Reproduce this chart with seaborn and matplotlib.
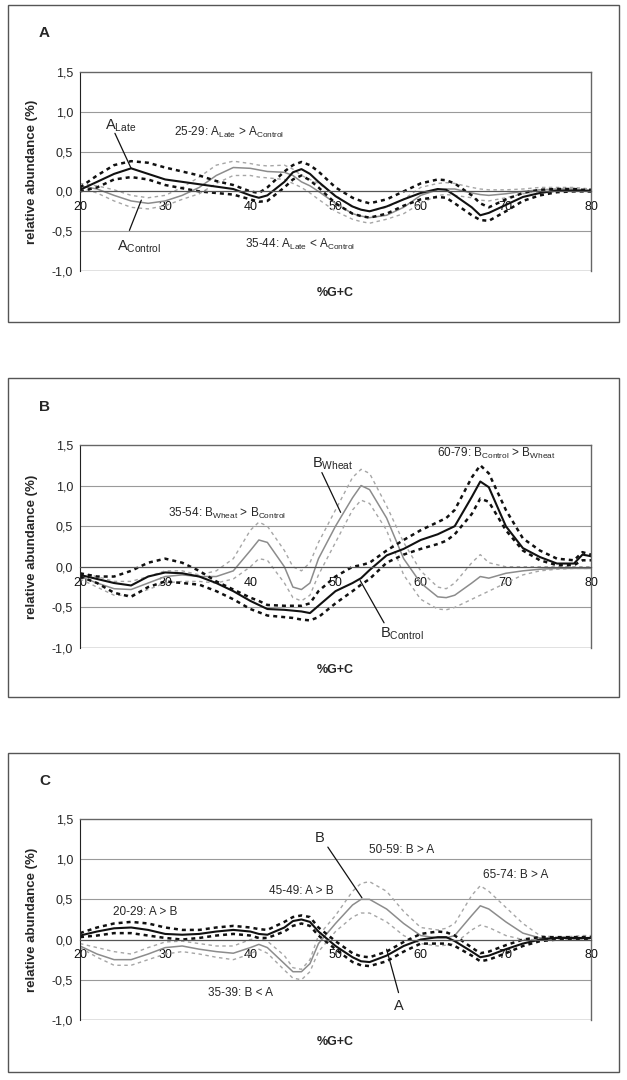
import matplotlib
matplotlib.use("Agg")
import matplotlib.pyplot as plt
import seaborn as sns
from matplotlib.patches import Rectangle
from matplotlib.ticker import FuncFormatter

# %G+C positions shared by all series
gc = [20, 22, 24, 26, 28, 30, 32, 34, 36, 38, 40, 41, 42, 44, 45, 46, 47, 48, 50,
      52, 53, 54, 56, 58, 60, 62, 63, 64, 66, 67, 68, 70, 72, 74, 76, 78, 79, 80]

# Panel A
a_late = [0.02, 0.12, 0.22, 0.29, 0.22, 0.15, 0.12, 0.09, 0.06, 0.03, -0.05, -0.08, -0.05, 0.12, 0.24, 0.28, 0.22, 0.12, -0.06,
          -0.19, -0.23, -0.25, -0.19, -0.10, -0.02, 0.03, 0.02, -0.05, -0.20, -0.30, -0.27, -0.17, -0.07, -0.02, 0.01, 0.01, 0.01, 0.00]
a_late_hi = [0.05, 0.20, 0.33, 0.38, 0.36, 0.30, 0.25, 0.20, 0.13, 0.08, 0.00, -0.02, 0.05, 0.25, 0.33, 0.37, 0.33, 0.25, 0.05,
             -0.08, -0.12, -0.15, -0.10, 0.00, 0.10, 0.15, 0.14, 0.10, -0.05, -0.15, -0.20, -0.10, -0.02, 0.02, 0.03, 0.03, 0.02, 0.02]
a_late_lo = [0.00, 0.05, 0.15, 0.18, 0.15, 0.08, 0.04, 0.00, -0.02, -0.04, -0.10, -0.13, -0.12, 0.05, 0.15, 0.20, 0.14, 0.05, -0.15,
             -0.28, -0.31, -0.33, -0.28, -0.18, -0.10, -0.07, -0.08, -0.15, -0.30, -0.36, -0.37, -0.25, -0.12, -0.05, -0.01, 0.00, 0.00, 0.00]
a_ctrl = [0.07, 0.03, -0.05, -0.12, -0.15, -0.12, -0.05, 0.05, 0.20, 0.30, 0.29, 0.27, 0.25, 0.24, 0.20, 0.12, 0.07, 0.00, -0.15,
          -0.28, -0.31, -0.33, -0.30, -0.20, -0.05, 0.02, 0.03, 0.03, -0.02, -0.04, -0.05, -0.03, 0.00, 0.02, 0.03, 0.03, 0.02, 0.02]
a_ctrl_hi = [0.10, 0.07, 0.02, -0.05, -0.08, -0.05, 0.05, 0.18, 0.33, 0.38, 0.35, 0.33, 0.32, 0.33, 0.28, 0.20, 0.15, 0.10, -0.05,
             -0.20, -0.23, -0.25, -0.20, -0.10, 0.05, 0.10, 0.11, 0.10, 0.05, 0.03, 0.02, 0.02, 0.03, 0.05, 0.05, 0.05, 0.04, 0.03]
a_ctrl_lo = [0.05, -0.02, -0.12, -0.20, -0.22, -0.18, -0.10, -0.03, 0.10, 0.20, 0.20, 0.18, 0.17, 0.15, 0.10, 0.05, -0.02, -0.10, -0.25,
             -0.35, -0.38, -0.40, -0.35, -0.28, -0.15, -0.05, -0.04, -0.05, -0.08, -0.11, -0.12, -0.08, -0.03, 0.00, 0.02, 0.02, 0.01, 0.00]

# Panel B
b_ctrl = [-0.10, -0.15, -0.20, -0.23, -0.12, -0.07, -0.08, -0.12, -0.20, -0.30, -0.42, -0.47, -0.52, -0.53, -0.54, -0.55, -0.57, -0.48, -0.30,
          -0.20, -0.14, -0.04, 0.14, 0.22, 0.33, 0.40, 0.45, 0.50, 0.86, 1.05, 0.98, 0.50, 0.23, 0.12, 0.04, 0.04, 0.15, 0.13]
b_ctrl_hi = [-0.08, -0.12, -0.12, -0.05, 0.05, 0.10, 0.05, -0.05, -0.18, -0.28, -0.38, -0.42, -0.47, -0.48, -0.48, -0.48, -0.45, -0.30, -0.12,
             0.00, 0.02, 0.05, 0.20, 0.33, 0.45, 0.55, 0.60, 0.70, 1.10, 1.25, 1.15, 0.70, 0.35, 0.20, 0.10, 0.08, 0.18, 0.15]
b_ctrl_lo = [-0.12, -0.20, -0.32, -0.37, -0.25, -0.18, -0.20, -0.22, -0.30, -0.40, -0.52, -0.56, -0.60, -0.62, -0.63, -0.65, -0.66, -0.62, -0.45,
             -0.30, -0.22, -0.15, 0.05, 0.15, 0.22, 0.28, 0.32, 0.40, 0.65, 0.84, 0.80, 0.45, 0.20, 0.08, 0.02, 0.02, 0.08, 0.08]
b_wheat = [-0.12, -0.20, -0.27, -0.28, -0.20, -0.12, -0.10, -0.12, -0.12, -0.05, 0.20, 0.33, 0.30, 0.00, -0.25, -0.28, -0.20, 0.10, 0.50,
           0.85, 1.00, 0.95, 0.60, 0.10, -0.20, -0.37, -0.38, -0.35, -0.20, -0.12, -0.14, -0.08, -0.05, -0.03, -0.02, -0.02, -0.02, -0.02]
b_wheat_hi = [-0.08, -0.12, -0.18, -0.18, -0.12, -0.05, -0.05, -0.10, -0.05, 0.10, 0.45, 0.55, 0.50, 0.20, 0.00, -0.05, 0.05, 0.30, 0.70,
              1.10, 1.20, 1.15, 0.75, 0.30, -0.05, -0.25, -0.27, -0.20, 0.05, 0.15, 0.05, 0.00, 0.00, 0.00, 0.00, 0.00, 0.00, 0.00]
b_wheat_lo = [-0.15, -0.25, -0.35, -0.35, -0.28, -0.20, -0.18, -0.18, -0.20, -0.15, 0.00, 0.10, 0.08, -0.20, -0.38, -0.42, -0.35, -0.10, 0.30,
              0.70, 0.82, 0.78, 0.45, -0.10, -0.40, -0.52, -0.53, -0.50, -0.40, -0.35, -0.30, -0.20, -0.10, -0.05, -0.03, -0.02, -0.02, -0.02]

# Panel C
c_a = [0.05, 0.10, 0.14, 0.15, 0.12, 0.07, 0.06, 0.07, 0.10, 0.12, 0.10, 0.07, 0.06, 0.15, 0.23, 0.25, 0.22, 0.10, -0.08,
       -0.22, -0.27, -0.28, -0.20, -0.08, 0.00, 0.03, 0.03, -0.02, -0.15, -0.22, -0.20, -0.12, -0.05, 0.00, 0.02, 0.02, 0.02, 0.02]
c_a_hi = [0.08, 0.15, 0.20, 0.22, 0.20, 0.15, 0.12, 0.12, 0.15, 0.17, 0.15, 0.13, 0.12, 0.22, 0.28, 0.30, 0.28, 0.15, -0.02,
          -0.17, -0.21, -0.22, -0.15, -0.03, 0.07, 0.10, 0.09, 0.05, -0.10, -0.17, -0.15, -0.07, 0.00, 0.03, 0.03, 0.03, 0.03, 0.03]
c_a_lo = [0.03, 0.05, 0.08, 0.08, 0.05, 0.02, 0.00, 0.02, 0.05, 0.07, 0.05, 0.02, 0.02, 0.10, 0.17, 0.20, 0.17, 0.05, -0.12,
          -0.28, -0.32, -0.33, -0.27, -0.15, -0.05, -0.05, -0.05, -0.08, -0.20, -0.27, -0.25, -0.17, -0.08, -0.02, 0.00, 0.01, 0.01, 0.01]
c_b = [-0.08, -0.18, -0.25, -0.25, -0.18, -0.10, -0.08, -0.12, -0.15, -0.17, -0.10, -0.06, -0.10, -0.30, -0.40, -0.40, -0.30, -0.05, 0.20,
       0.43, 0.50, 0.50, 0.38, 0.20, 0.05, 0.02, 0.02, 0.05, 0.30, 0.42, 0.38, 0.22, 0.08, 0.02, 0.02, 0.02, 0.02, 0.02]
c_b_hi = [-0.05, -0.10, -0.15, -0.18, -0.10, -0.03, -0.02, -0.05, -0.08, -0.08, 0.00, 0.02, -0.02, -0.20, -0.35, -0.37, -0.25, 0.05, 0.30,
          0.60, 0.70, 0.72, 0.60, 0.35, 0.15, 0.12, 0.14, 0.20, 0.55, 0.67, 0.60, 0.40, 0.20, 0.05, 0.03, 0.04, 0.05, 0.05]
c_b_lo = [-0.10, -0.22, -0.32, -0.32, -0.25, -0.18, -0.15, -0.18, -0.22, -0.25, -0.18, -0.12, -0.17, -0.38, -0.48, -0.50, -0.40, -0.15, 0.10,
          0.28, 0.33, 0.33, 0.22, 0.05, -0.05, -0.08, -0.07, -0.05, 0.12, 0.18, 0.15, 0.05, 0.00, 0.00, 0.00, 0.00, 0.00, 0.00]

y_ticks = [-1.0, -0.5, 0.0, 0.5, 1.0, 1.5]
x_ticks = [20, 30, 40, 50, 60, 70, 80]

sns.set_style("white")
plt.rcParams["font.family"] = ["Liberation Sans", "DejaVu Sans"]
plt.rcParams["mathtext.fontset"] = "custom"
plt.rcParams["mathtext.rm"] = "Liberation Sans"
plt.rcParams["mathtext.it"] = "Liberation Sans"

fig = plt.figure(figsize=(6.27, 10.8), dpi=100)

BLACK = "#111111"
GREY = "#8c8c8c"
GREY_D = "#a6a6a6"

panels = [
    {
        "letter": "A", "box": (0.7019, 0.9954), "axes": (0.7491, 0.9333), "letter_y": 0.969,
        "black": (a_late, a_late_hi, a_late_lo), "grey": (a_ctrl, a_ctrl_hi, a_ctrl_lo),
        "notes": [(31.0, 0.74, r"25-29: A$_{\mathrm{Late}}$ > A$_{\mathrm{Control}}$"),
                  (39.4, -0.67, r"35-44: A$_{\mathrm{Late}}$ < A$_{\mathrm{Control}}$")],
        "names": [(22.9, 0.83, r"A$_{\mathrm{Late}}$", (24.1, 0.73), (26.0, 0.29)),
                  (24.3, -0.70, r"A$_{\mathrm{Control}}$", (25.8, -0.49), (27.2, -0.11))],
    },
    {
        "letter": "B", "box": (0.3546, 0.6500), "axes": (0.4000, 0.5880), "letter_y": 0.623,
        "black": (b_ctrl, b_ctrl_hi, b_ctrl_lo), "grey": (b_wheat, b_wheat_hi, b_wheat_lo),
        "notes": [(61.9, 1.39, r"60-79: B$_{\mathrm{Control}}$ > B$_{\mathrm{Wheat}}$"),
                  (30.3, 0.66, r"35-54: B$_{\mathrm{Wheat}}$ > B$_{\mathrm{Control}}$")],
        "names": [(47.2, 1.27, r"B$_{\mathrm{Wheat}}$", (48.4, 1.16), (50.6, 0.67)),
                  (55.2, -0.83, r"B$_{\mathrm{Control}}$", (55.7, -0.69), (52.9, -0.17))],
    },
    {
        "letter": "C", "box": (0.0074, 0.3028), "axes": (0.0556, 0.2417), "letter_y": 0.277,
        "black": (c_a, c_a_hi, c_a_lo), "grey": (c_b, c_b_hi, c_b_lo),
        "notes": [(53.9, 1.12, "50-59: B > A"), (67.3, 0.80, "65-74: B > A"),
                  (42.2, 0.60, "45-49: A > B"), (23.9, 0.34, "20-29: A > B"),
                  (35.0, -0.66, "35-39: B < A")],
        "names": [(47.6, 1.26, "B", (49.1, 1.15), (53.1, 0.52)),
                  (56.9, -0.83, "A", (57.4, -0.66), (56.0, -0.12))],
    },
]

comma = FuncFormatter(lambda v, p: f"{v:.1f}".replace(".", ","))

for p in panels:
    b0, b1 = p["box"]
    fig.patches.append(Rectangle((0.0128, b0), 0.9745, b1 - b0, transform=fig.transFigure,
                                 fill=False, edgecolor="#555555", lw=1.0))
    fig.text(0.071, p["letter_y"], p["letter"], fontsize=11, fontweight="bold", ha="center", va="center")

    a0, a1 = p["axes"]
    ax = fig.add_axes([0.1276, a0, 0.815, a1 - a0])

    # grey group first, black on top
    mean, hi, lo = p["grey"]
    sns.lineplot(x=gc, y=hi, ax=ax, color=GREY_D, lw=1.0, linestyle=(0, (2.5, 2.5)))
    sns.lineplot(x=gc, y=lo, ax=ax, color=GREY_D, lw=1.0, linestyle=(0, (2.5, 2.5)))
    sns.lineplot(x=gc, y=mean, ax=ax, color=GREY, lw=1.1)
    mean, hi, lo = p["black"]
    sns.lineplot(x=gc, y=hi, ax=ax, color=BLACK, lw=1.8, linestyle=(0, (1.6, 1.6)))
    sns.lineplot(x=gc, y=lo, ax=ax, color=BLACK, lw=1.8, linestyle=(0, (1.6, 1.6)))
    sns.lineplot(x=gc, y=mean, ax=ax, color=BLACK, lw=1.5)

    ax.set_xlim(20, 80)
    ax.set_ylim(-1.0, 1.5)
    ax.set_yticks(y_ticks)
    ax.set_xticks(x_ticks)
    ax.yaxis.set_major_formatter(comma)
    for yv in [0.5, 1.0, -0.5]:
        ax.axhline(yv, color="#9a9a9a", lw=0.8, zorder=0)
    ax.axhline(-1.0, color="#666666", lw=1.0, zorder=0)

    ax.spines["bottom"].set_position(("data", 0))
    ax.spines["bottom"].set_color("#555555")
    ax.spines["bottom"].set_linewidth(0.9)
    ax.spines["left"].set_color("#222222")
    for s in ["top", "right"]:
        ax.spines[s].set_color("#666666")
        ax.spines[s].set_linewidth(1.0)
    ax.tick_params(axis="x", direction="inout", length=4, width=0.6, colors="#333333",
                   labelsize=9, labelcolor="#111111", pad=5)
    ax.tick_params(axis="y", direction="out", length=2, width=0.6, labelsize=9, pad=3)

    ax.set_ylabel("relative abundance (%)", fontsize=9.5, fontweight="bold")
    ax.yaxis.set_label_coords(-0.082, 0.5)
    ax.set_xlabel("%G+C", fontsize=9, fontweight="bold")
    ax.xaxis.set_label_coords(0.5, -0.08)

    for x0, y0, txt in p["notes"]:
        ax.text(x0, y0, txt, fontsize=8.5, ha="left", va="center")
    for x0, y0, txt, start, end in p["names"]:
        ax.text(x0, y0, txt, fontsize=10.5, ha="left", va="center")
        sns.lineplot(x=[start[0], end[0]], y=[start[1], end[1]], ax=ax, color=BLACK, lw=0.9)

fig.savefig("out.png", dpi=100)
